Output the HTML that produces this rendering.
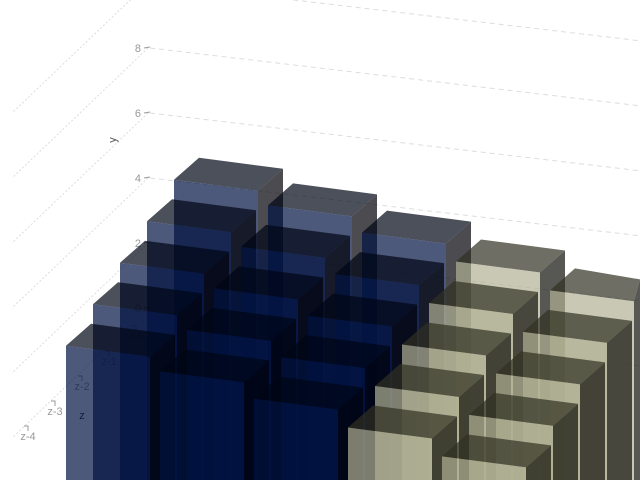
<!DOCTYPE html>
<html><head><meta charset="utf-8"><style>
html,body{margin:0;padding:0;background:#fff;overflow:hidden;width:640px;height:480px;}
svg{display:block;font-family:"Liberation Sans",sans-serif;overflow:hidden;}
</style></head><body>
<svg id="chart" width="640" height="480" viewBox="0 0 640 480">
<g id="grid"></g>
<g id="axes"></g>
<g id="labels"></g>
<g id="bars"></g>
</svg>
<script>
const xCategories = ["x-0","x-1","x-2","x-3","x-4"];
const zCategories = ["z-0","z-1","z-2","z-3","z-4"];
const yTicks = [0,2,4,6,8,10];
const row0 = [4.9,4.45,3.95,3.4,2.85];
const row1 = [4.9,4.45,3.95,3.4,2.85];
const row2 = [4.9,4.45,3.95,3.4,2.85];
const row3 = [4.9,4.45,3.95,3.4,2.85];
const row4 = [4.9,4.45,3.95,3.4,2.85];
const seriesOf = ["blue","blue","blue","beige","beige"];

const rows=[row0,row1,row2,row3,row4];
const NS="http://www.w3.org/2000/svg";
function gx(i,j){return 174+94*i-27*j;}
function gy(i,j){return 339+11*i+41.5*j;}
function yScale(h){return h*32.5;}
function mk(tag,attrs,parent){const e=document.createElementNS(NS,tag);for(const k in attrs)e.setAttribute(k,attrs[k]);parent.appendChild(e);return e;}
const grid=document.getElementById('grid'),axes=document.getElementById('axes'),bars=document.getElementById('bars'),labels=document.getElementById('labels');
const colors={blue:{front:'rgb(2,19,65)',top:'rgb(0,5,22)',side:'rgb(0,0,5)'},beige:{front:'rgb(176,176,148)',top:'rgb(48,48,34)',side:'rgb(15,15,10)'}};

yTicks.forEach(t=>{
  const y=308-yScale(t);
  const x2=Math.min(640,150+(480-y)/0.118);
  const l1=mk('line',{x1:150,y1:y,x2:640,y2:y+0.118*490,stroke:'#ddd','stroke-dasharray':'5,4','stroke-width':1},grid);
  
  
  const l2=mk('line',{x1:148,y1:y,x2:12,y2:y+130,stroke:'#ddd','stroke-dasharray':'2,2','stroke-width':1},grid);
  
  
  if(t<10){
    const tx=mk('text',{x:141,y:y+4,'font-size':11,fill:'#999','text-anchor':'end'},axes);
    tx.textContent=t;
    
    
    const tk=mk('line',{x1:144,y1:y,x2:150,y2:y-1,stroke:'#999'},axes);
    
    
  }
});
const yl=mk('text',{x:0,y:0,'font-size':11,fill:'#555',transform:'translate(116,140) rotate(-90)','text-anchor':'middle'},labels);
yl.textContent='y';


zCategories.forEach((z,j)=>{
  const x=136-27*j, y=340+25*j;
  const t=mk('text',{x:x,y:y,'font-size':11,fill:'#999','text-anchor':'middle'},labels);
  t.textContent=z;
  
  
  const tk=mk('path',{d:`M${x-4} ${y-14}h4v5`,fill:'none',stroke:'#999'},labels);
  
  
});
const zl=mk('text',{x:82,y:419,'font-size':11,fill:'#334','text-anchor':'middle'},labels);
zl.textContent='z';



const W=[84,11], D=[25,-22], B=480;
function cx(x){return Math.min(640,x);}
rows.forEach((row,j)=>{
  row.forEach((v,i)=>{
    const c=colors[seriesOf[i]];
    const x=gx(i,j), yt=gy(i,j)-yScale(v);
    const g=mk('g',{},bars);
    
    
    const op=0.7;
    const xr=cx(x+W[0]), xrb=cx(x+W[0]+D[0]);
    mk('polygon',{points:`${xr},${yt+W[1]} ${xrb},${yt+W[1]+D[1]} ${xrb},${B} ${xr},${B}`,fill:c.side,'fill-opacity':op},g);
    mk('polygon',{points:`${x},${yt} ${cx(x+D[0])},${yt+D[1]} ${xrb},${yt+W[1]+D[1]} ${xr},${yt+W[1]}`,fill:c.top,'fill-opacity':op},g);
    mk('polygon',{points:`${x},${yt} ${xr},${yt+W[1]} ${xr},${B} ${x},${B}`,fill:c.front,'fill-opacity':op},g);
  });
});
</script>
</body></html>
